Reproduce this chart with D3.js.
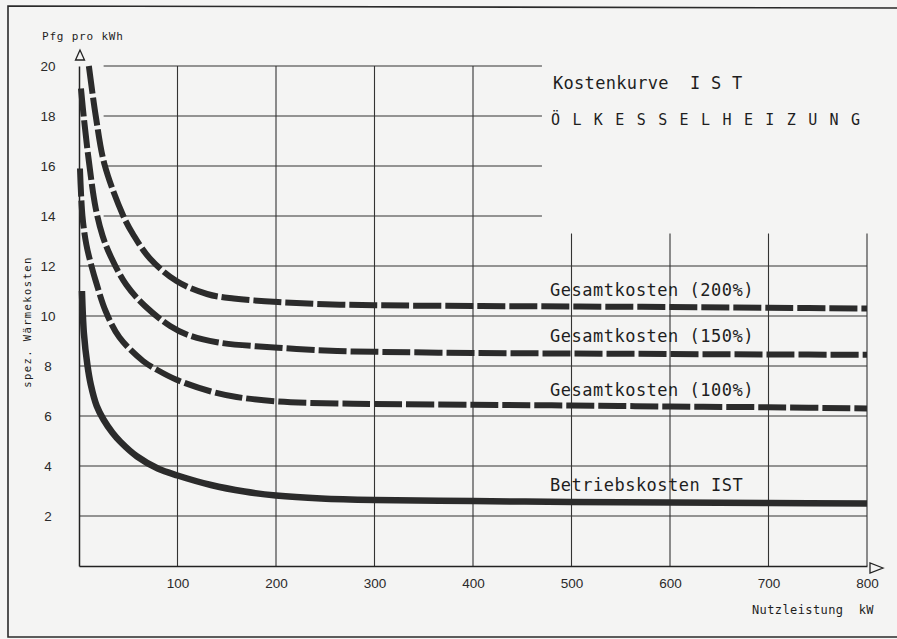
<!DOCTYPE html>
<html>
<head>
<meta charset="utf-8">
<title>Kostenkurve IST</title>
<script src="https://cdn.jsdelivr.net/npm/d3@7"></script>
<style>
  body { margin: 0; background: #f4f4f3; }
  .tick text { font-family: "Liberation Sans", sans-serif; font-size: 13.5px; fill: #2a2a2a; }
  .mono { font-family: "DejaVu Sans Mono", monospace; fill: #1e1e1e; }
  .grid { stroke: #333; stroke-width: 1.1; fill: none; }
</style>
</head>
<body>
<script>
  // tick labels
  var xTicks = [100, 200, 300, 400, 500, 600, 700, 800];
  var yTicks = [2, 4, 6, 8, 10, 12, 14, 16, 18, 20];

  // curves: [Nutzleistung kW, Pfg pro kWh]
  var betrieb = [[3, 11.0], [5, 9.3], [8.5, 8.05], [12, 7.25], [18, 6.4], [25, 5.85], [34, 5.33], [42, 4.97],
    [59, 4.38], [80, 3.9], [100, 3.62], [134, 3.24], [168, 2.98], [200, 2.82], [246, 2.7], [300, 2.64],
    [400, 2.6], [500, 2.56], [600, 2.54], [700, 2.52], [800, 2.5]];
  var gesamt100 = [[1, 15.9], [3.5, 14], [7.5, 12.85], [13.7, 11.85], [17, 11.4], [27, 10.2], [41, 9.15],
    [65, 8.2], [80, 7.83], [99, 7.45], [134, 6.98], [160, 6.76], [202, 6.58], [262, 6.5], [300, 6.48],
    [400, 6.45], [500, 6.42], [600, 6.38], [700, 6.35], [800, 6.3]];
  var gesamt150 = [[2, 19.1], [5, 17.9], [10, 16.2], [17, 14.3], [24, 13.2], [32.6, 12.35], [48, 11.25],
    [67, 10.4], [92.5, 9.6], [110, 9.25], [140, 8.95], [202, 8.73], [262, 8.6], [300, 8.57], [400, 8.52],
    [500, 8.5], [600, 8.48], [700, 8.46], [800, 8.45]];
  var gesamt200 = [[10, 20], [17, 18], [26, 16.05], [45, 14], [55, 13.26], [72, 12.3], [99, 11.4], [130, 10.88],
    [157, 10.7], [202, 10.56], [250, 10.47], [300, 10.43], [400, 10.4], [500, 10.38], [600, 10.36],
    [700, 10.33], [800, 10.3]];

  var width = 897, height = 639;

  var svg = d3.select("body").append("svg")
    .attr("width", width)
    .attr("height", height);

  var x = d3.scaleLinear().domain([0, 800]).range([79, 867]);
  var y = d3.scaleLinear().domain([0, 20]).range([566, 66]);

  // outer frame (no right edge)
  svg.append("path")
    .attr("d", "M" + (width + 5) + ",8 L8,6 L8,637 L" + (width + 5) + ",637")
    .attr("fill", "none")
    .attr("stroke", "#2a2a2a")
    .attr("stroke-width", 1.6);

  // grid
  var grid = svg.append("g");
  // full width horizontals
  grid.selectAll(".hfull")
    .data(yTicks.filter(function (d) { return d <= 12; }))
    .enter().append("line")
    .attr("class", "grid")
    .attr("x1", x(0)).attr("x2", x(800))
    .attr("y1", function (d) { return y(d); })
    .attr("y2", function (d) { return y(d); });
  // short horizontals in upper left
  grid.selectAll(".hshort")
    .data(yTicks.filter(function (d) { return d > 12; }))
    .enter().append("line")
    .attr("class", "grid")
    .attr("x1", x(25)).attr("x2", x(470))
    .attr("y1", function (d) { return y(d); })
    .attr("y2", function (d) { return y(d); });
  // verticals
  grid.selectAll(".v")
    .data(xTicks)
    .enter().append("line")
    .attr("class", "grid")
    .attr("x1", function (d) { return x(d); })
    .attr("x2", function (d) { return x(d); })
    .attr("y1", y(0))
    .attr("y2", function (d) { return d <= 400 ? y(20) : y(13.3); });

  // axes
  var xAxis = svg.append("g")
    .attr("transform", "translate(0," + y(0) + ")")
    .call(d3.axisBottom(x).tickValues(xTicks).tickSize(0).tickSizeOuter(0).tickPadding(12));
  xAxis.select(".domain").attr("stroke", "#222").attr("stroke-width", 1.5);

  var yAxis = svg.append("g")
    .attr("transform", "translate(" + x(0) + ",0)")
    .call(d3.axisLeft(y).tickValues(yTicks).tickSize(0).tickSizeOuter(0));
  yAxis.select(".domain").attr("stroke", "#222").attr("stroke-width", 1.5);
  yAxis.selectAll(".tick text")
    .attr("text-anchor", "middle")
    .attr("x", -31);

  // arrow heads
  svg.append("path")
    .attr("d", "M" + (x(0) + 1) + "," + (y(20) - 16) + " l-4.5,10 l9,0 z")
    .attr("fill", "none").attr("stroke", "#222").attr("stroke-width", 1.3);
  svg.append("path")
    .attr("d", "M" + (x(800) + 16) + "," + (y(0) + 2) + " l-13,-5 l0,10 z")
    .attr("fill", "none").attr("stroke", "#222").attr("stroke-width", 1.3);

  // curves
  var line = d3.line()
    .x(function (d) { return x(d[0]); })
    .y(function (d) { return y(d[1]); })
    .curve(d3.curveCatmullRom.alpha(0.5));

  [gesamt100, gesamt150, gesamt200].forEach(function (s) {
    svg.append("path")
      .datum(s)
      .attr("d", line)
      .attr("fill", "none")
      .attr("stroke", "#2b2b2b")
      .attr("stroke-width", 6)
      .attr("stroke-dasharray", "28,4");
  });

  svg.append("path")
    .datum(betrieb)
    .attr("d", line)
    .attr("fill", "none")
    .attr("stroke", "#2b2b2b")
    .attr("stroke-width", 6.5);

  // curve labels
  var labels = [
    { t: "Gesamtkosten (200%)", v: 10.3 },
    { t: "Gesamtkosten (150%)", v: 8.45 },
    { t: "Gesamtkosten (100%)", v: 6.3 },
    { t: "Betriebskosten IST", v: 2.5 }
  ];
  svg.selectAll(".clabel")
    .data(labels)
    .enter().append("text")
    .attr("class", "mono")
    .attr("x", 550)
    .attr("y", function (d) { return y(d.v) - 13; })
    .style("font-size", "17px")
    .style("letter-spacing", "0.5px")
    .text(function (d) { return d.t; });

  // titles
  svg.append("text")
    .attr("class", "mono")
    .attr("x", 553).attr("y", 89)
    .style("font-size", "17px")
    .style("letter-spacing", "0.3px")
    .style("white-space", "pre")
    .text("Kostenkurve  I S T");

  svg.append("text")
    .attr("class", "mono")
    .attr("x", 551).attr("y", 125)
    .style("font-size", "15px")
    .style("letter-spacing", "12.4px")
    .text("ÖLKESSELHEIZUNG");

  svg.append("text")
    .attr("class", "mono")
    .attr("x", 42).attr("y", 40)
    .style("font-size", "11px")
    .style("letter-spacing", "0.8px")
    .text("Pfg pro kWh");

  svg.append("text")
    .attr("class", "mono")
    .attr("transform", "translate(31,322) rotate(-90)")
    .attr("text-anchor", "middle")
    .style("font-size", "10.5px")
    .style("letter-spacing", "1.4px")
    .text("spez. Wärmekosten");

  svg.append("text")
    .attr("class", "mono")
    .attr("x", 874).attr("y", 614)
    .attr("text-anchor", "end")
    .style("font-size", "12px")
    .style("letter-spacing", "0.4px")
    .style("white-space", "pre")
    .text("Nutzleistung  kW");
</script>
</body>
</html>
